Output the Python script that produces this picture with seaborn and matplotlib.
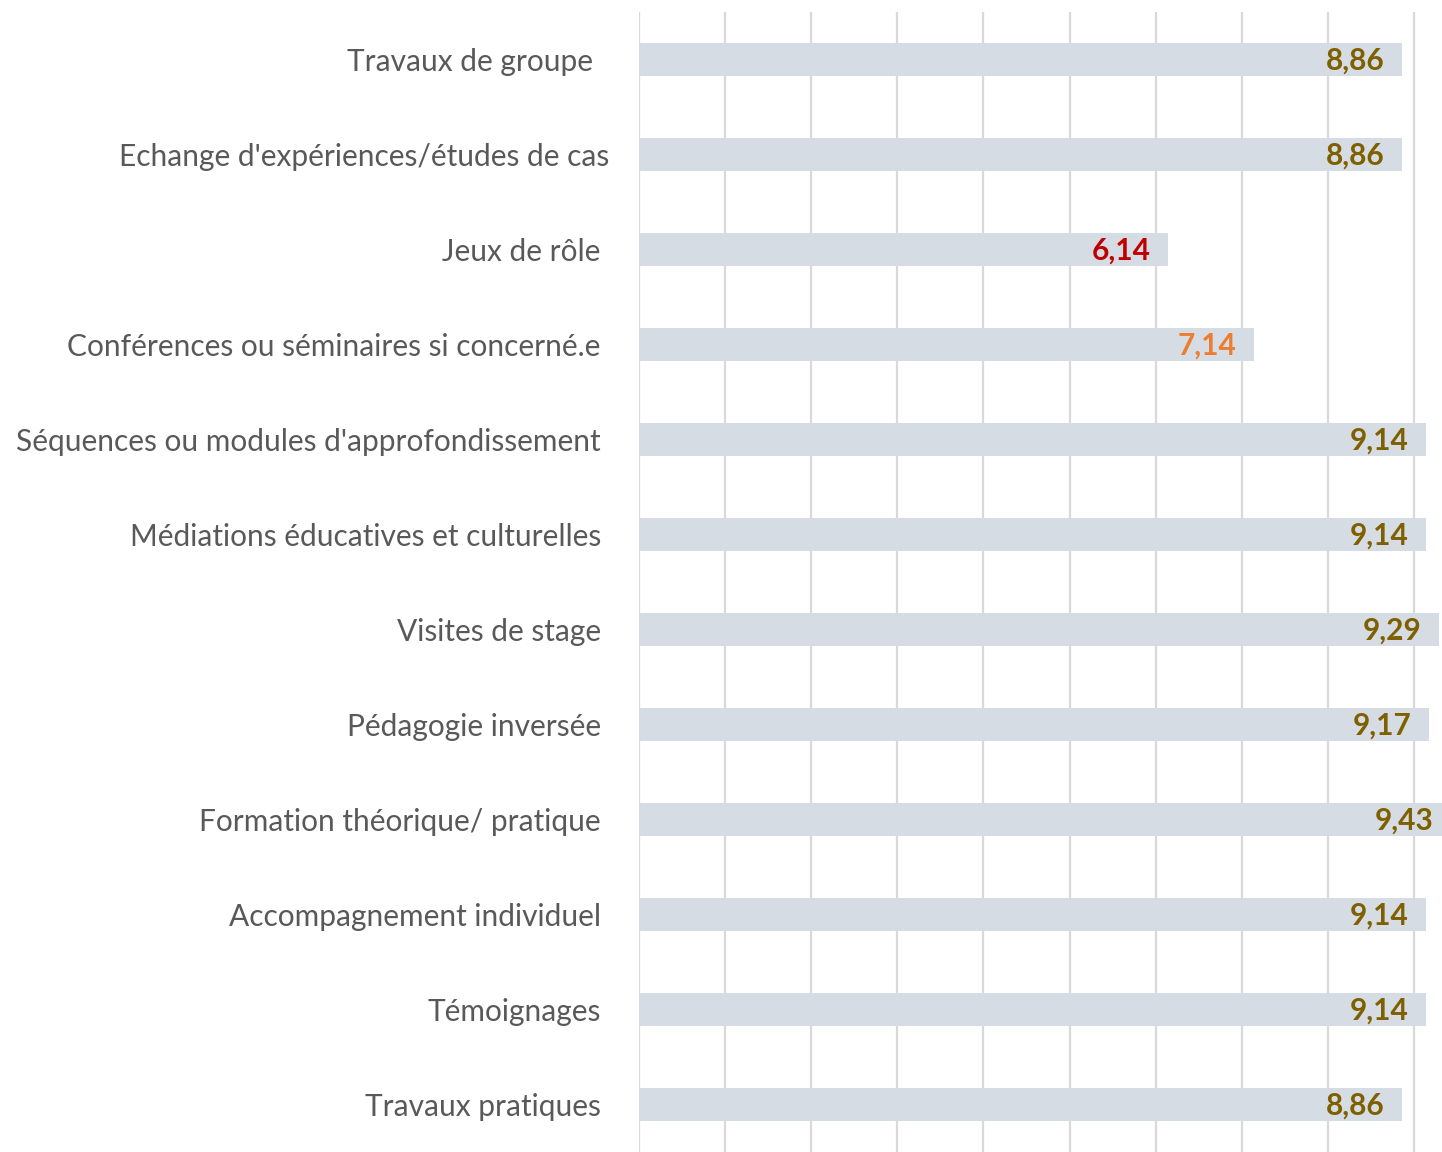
import matplotlib
matplotlib.use("Agg")
import matplotlib.pyplot as plt
import matplotlib.transforms as mtransforms
import seaborn as sns
import pandas as pd

categories = [
    "Travaux de groupe ",
    "Echange d'expériences/études de cas",
    "Jeux de rôle",
    "Conférences ou séminaires si concerné.e",
    "Séquences ou modules d'approfondissement",
    "Médiations éducatives et culturelles",
    "Visites de stage",
    "Pédagogie inversée",
    "Formation théorique/ pratique",
    "Accompagnement individuel",
    "Témoignages",
    "Travaux pratiques",
]
scores = [8.86, 8.86, 6.14, 7.14, 9.14, 9.14, 9.29, 9.17, 9.43, 9.14, 9.14, 8.86]

df = pd.DataFrame({"methode": categories, "note": scores})


def label_color(v):
    if v < 7:
        return "#C00000"
    if v < 8:
        return "#ED7D31"
    return "#7F6000"


sns.set_style("white")
plt.rcParams["font.family"] = ["Lato", "DejaVu Sans"]

W, H, DPI = 1442, 1152, 100
fig = plt.figure(figsize=(W / DPI, H / DPI), dpi=DPI)
ax = fig.add_axes([639 / W, 0, 1 - 639 / W, 1 - 12 / H])

sns.barplot(
    data=df,
    x="note",
    y="methode",
    orient="h",
    color="#D6DCE4",
    saturation=1,
    width=0.355,
    linewidth=0,
    ax=ax,
)

unit = (1414 - 639) / 9
ax.set_xlim(0, (W - 639) / unit)
ax.set_ylim(len(categories) - 0.5, -0.5)
ax.set_xticks(range(0, 10))
ax.set_xticklabels([])
ax.grid(axis="x", color="#D9D9D9", linewidth=1.6)
ax.grid(axis="y", visible=False)
ax.set_axisbelow(True)
for s in ax.spines.values():
    s.set_visible(False)
ax.set_xlabel("")
ax.set_ylabel("")
ax.tick_params(axis="both", length=0)
ax.tick_params(axis="y", pad=27.5, labelsize=21.5, labelcolor="#595959")

# small horizontal offset seen on the second label
offsets_px = {1: 8}
for i, lab in enumerate(ax.get_yticklabels()):
    if i in offsets_px:
        dx = offsets_px[i] / DPI
        lab.set_transform(lab.get_transform()
                          + mtransforms.ScaledTranslation(dx, 0, fig.dpi_scale_trans))

for i, v in enumerate(scores):
    ax.annotate(
        f"{v:.2f}".replace(".", ","),
        xy=(v, i),
        xytext=(-12.3, -1),
        textcoords="offset points",
        ha="right",
        va="center",
        fontsize=21.5,
        fontweight="bold",
        color=label_color(v),
        annotation_clip=False,
    )

fig.savefig("out.png", dpi=DPI)
